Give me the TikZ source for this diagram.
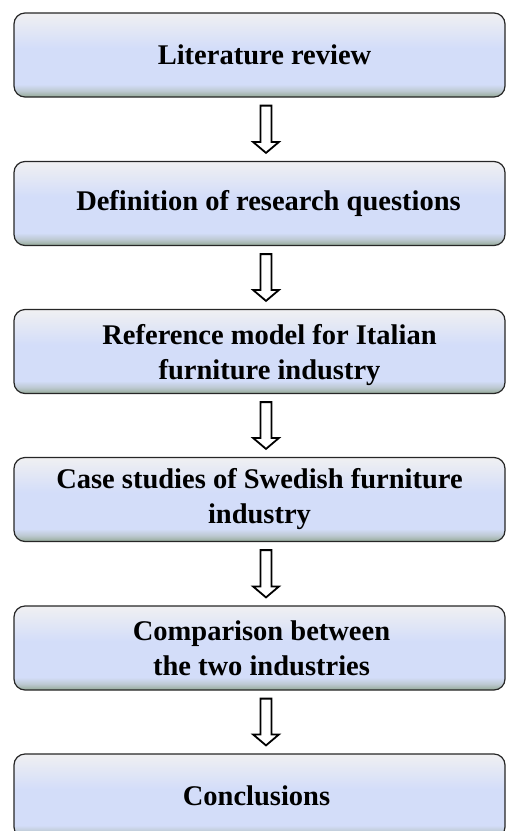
\documentclass[tikz,border=0pt]{standalone}
\usepackage{fontspec}
\setmainfont{Liberation Serif}
\usetikzlibrary{calc}

% box fill: pale grey at the top, light blue body, grey-green foot
\definecolor{shadeTop}{HTML}{F0F0F2}
\definecolor{shadeMid}{HTML}{D3DDF9}
\definecolor{shadeLow}{HTML}{BCC8D0}
\definecolor{shadeBot}{HTML}{94A996}
\pgfdeclareverticalshading{stepshade}{100bp}{%
  color(0bp)=(shadeBot); color(25bp)=(shadeBot); color(28.5bp)=(shadeLow);
  color(32.5bp)=(shadeMid); color(54bp)=(shadeMid);
  color(75bp)=(shadeTop); color(100bp)=(shadeTop)}

\tikzset{
  stepbox/.style={draw=black!85, line width=1.2pt, rounded corners=11pt,
    shading=stepshade, minimum width=491pt, minimum height=84pt, inner sep=0pt},
  steptext/.style={font=\fontsize{28.5pt}{35pt}\selectfont\bfseries,
    align=center, inner sep=0pt},
  flowarrow/.style={draw=black, line width=1.8pt, fill=white, line join=miter}
}

\begin{document}
\begin{tikzpicture}[x=1pt, y=-1pt]
  \useasboundingbox (0,0) rectangle (507,831);

  % process steps
  \node[stepbox] (b1) at (259.5, 55)    {};
  \node[stepbox] (b2) at (259.5, 203.5) {};
  \node[stepbox] (b3) at (259.5, 351.5) {};
  \node[stepbox] (b4) at (259.5, 499.5) {};
  \node[stepbox] (b5) at (259.5, 648)   {};
  \node[stepbox] (b6) at (259.5, 796)   {};

  \node[steptext] (t1) at ($(b1.center)+(5,0)$) {Literature review};
  \node[steptext] (t2) at ($(b2.center)+(9,0)$) {Definition of research questions};
  \node[steptext] (t3) at ($(b3.center)+(10,4)$) {Reference model for Italian\\furniture industry};
  \node[steptext] (t4) at ($(b4.center)+(0,0)$) {Case studies of Swedish furniture\\industry};
  \node[steptext] (t5) at ($(b5.center)+(2,0)$) {Comparison between\\the two industries};
  \node[steptext] (t6) at ($(b6.center)+(-3,0)$) {Conclusions};

  % hollow arrows between consecutive steps
  \foreach \a/\b in {b1/b2, b2/b3, b3/b4, b4/b5, b5/b6}{
    \draw[flowarrow]
      ($(\a.south)+(1,8)$) -- ($(\a.south)+(12,8)$) --
      ($(\b.north)+(12,-19)$) -- ($(\b.north)+(19.5,-19)$) --
      ($(\b.north)+(6.5,-8)$) -- ($(\b.north)+(-6.5,-19)$) --
      ($(\b.north)+(1,-19)$) -- cycle;
  }
\end{tikzpicture}
\end{document}
